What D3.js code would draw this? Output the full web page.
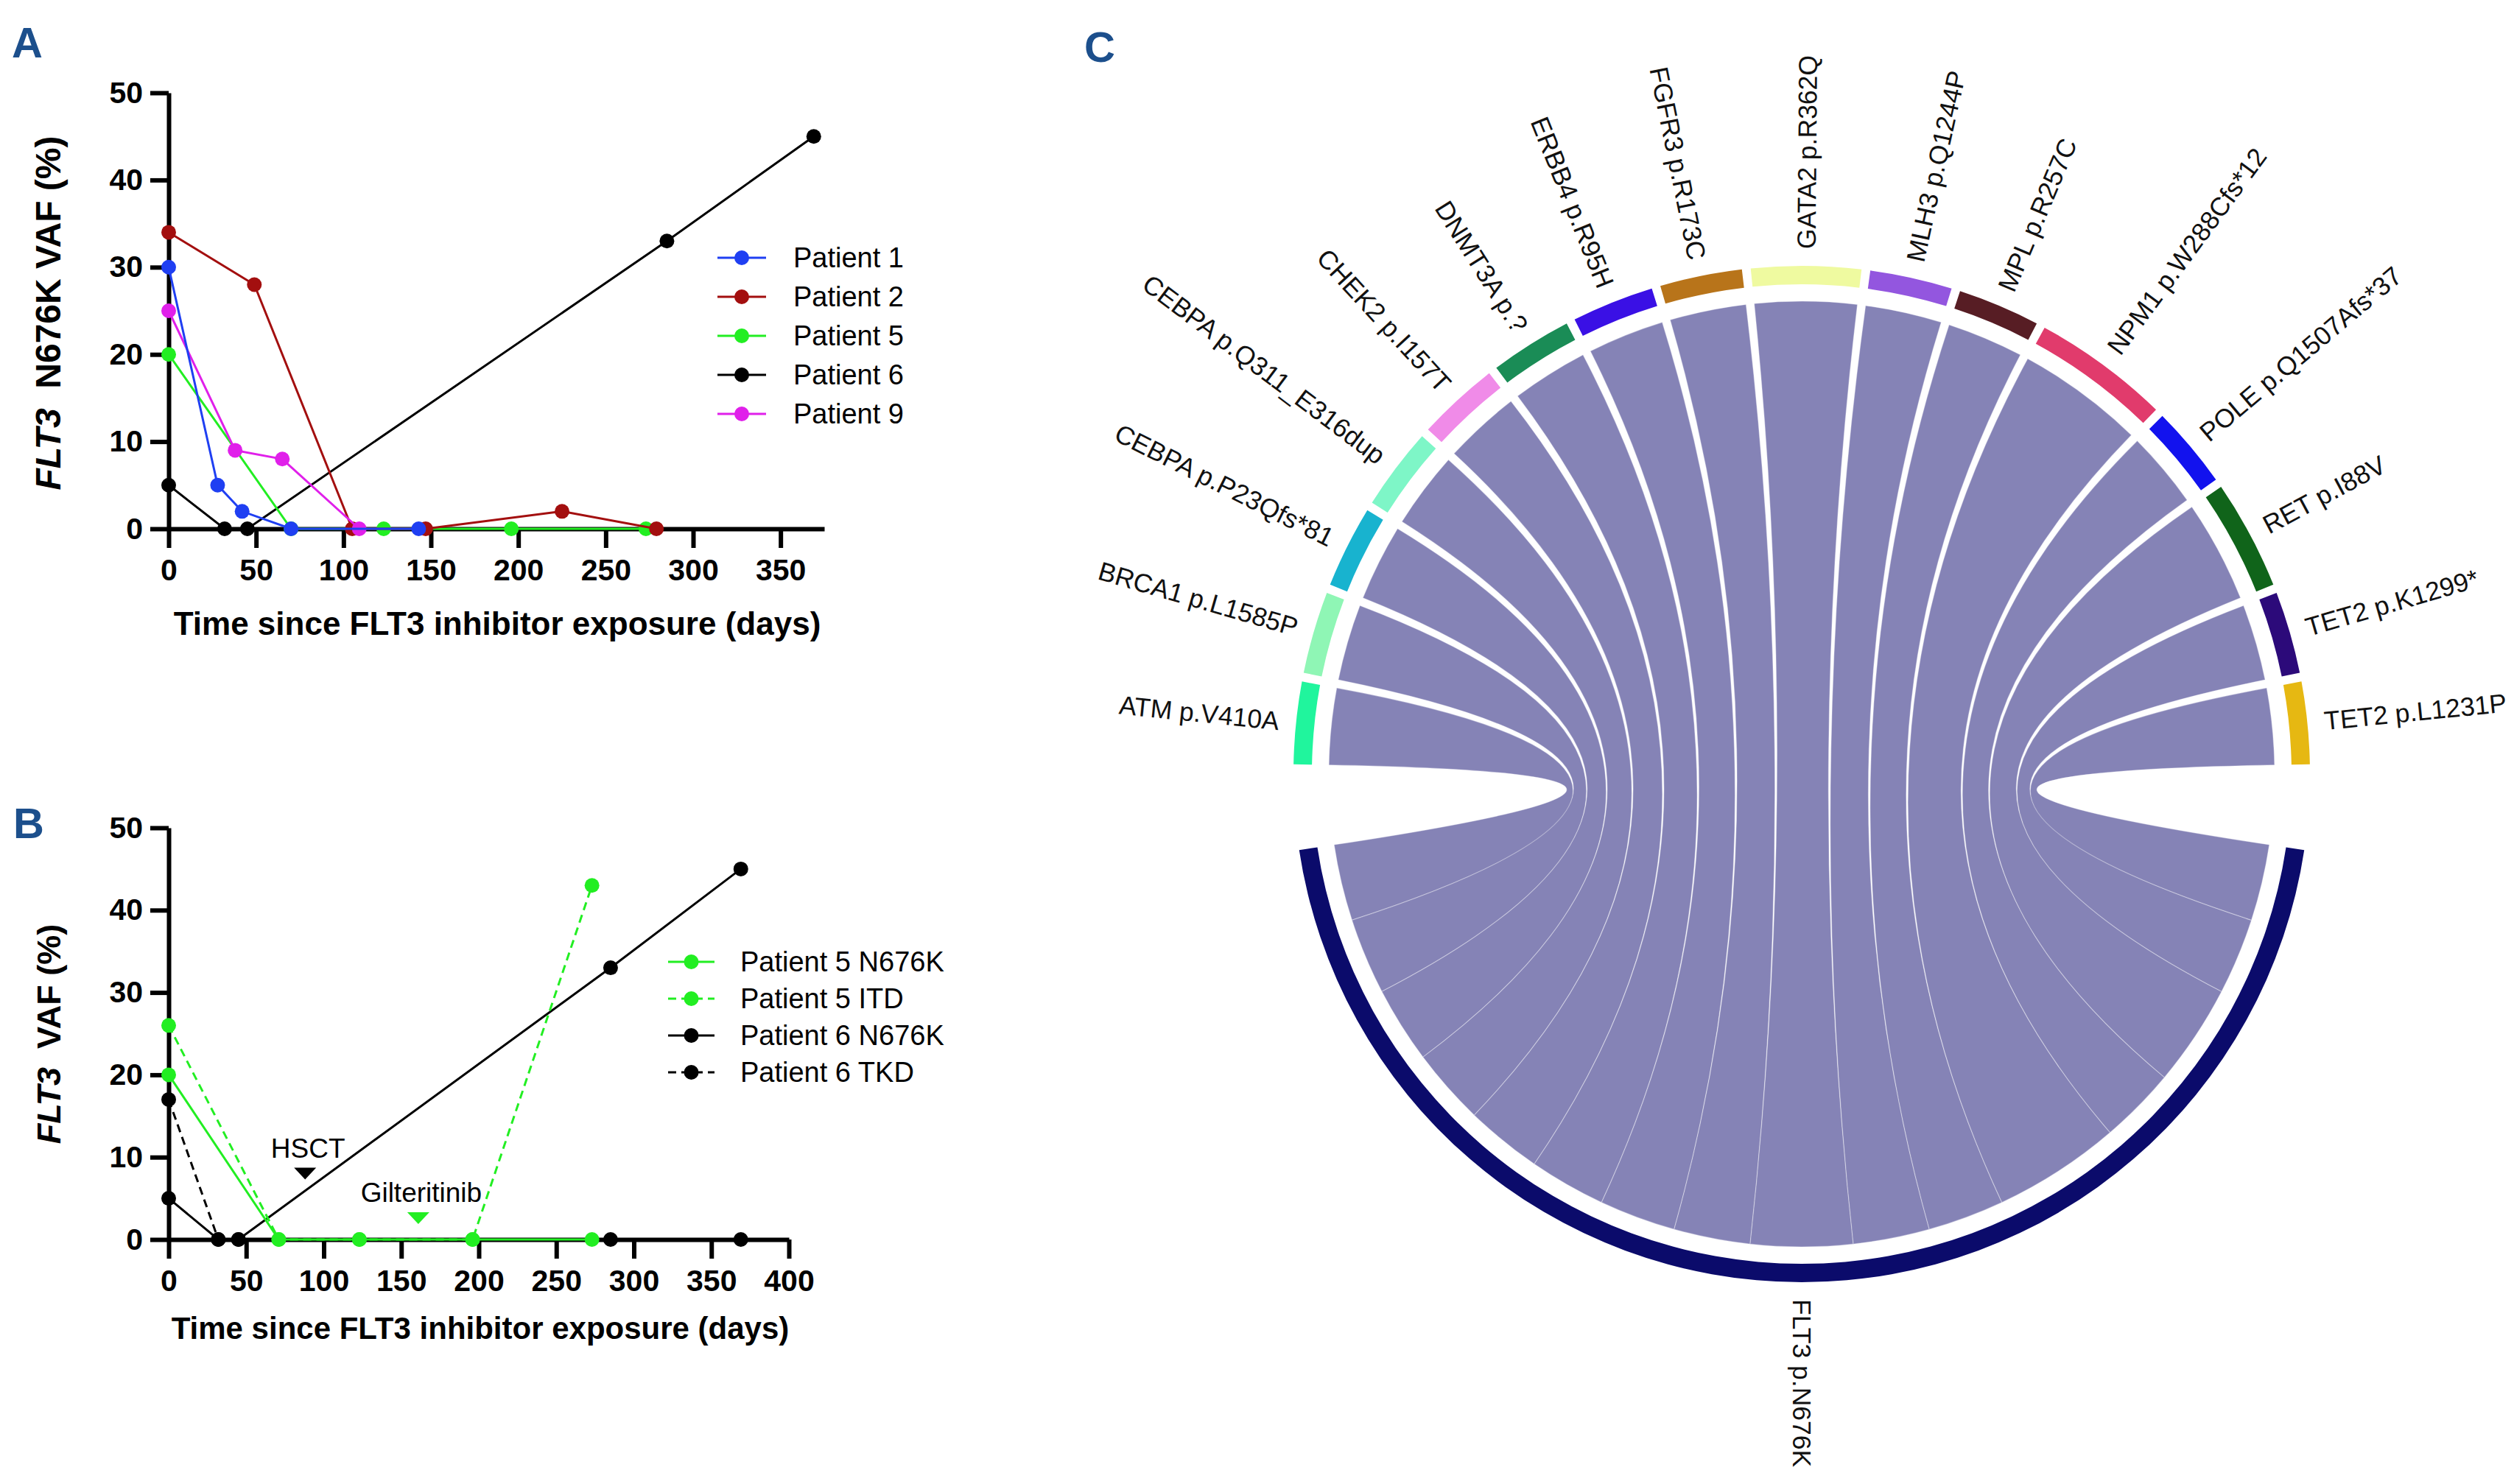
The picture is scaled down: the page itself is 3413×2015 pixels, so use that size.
<!DOCTYPE html>
<html>
<head lang="en">
    <meta charset="UTF-8">
    <title></title>
    <script src="https://cdn.jsdelivr.net/npm/d3@7/dist/d3.min.js"></script>
    <style>
        body { margin: 0; background: #fff; }
        text { font-family: "Liberation Sans", Arial, sans-serif; }
    </style>
</head>
<body>
<svg id="fig" width="3413" height="2015"></svg>
<script>
    // ---- panel A: N676K VAF per patient ----
    var patientsA = ["Patient 1", "Patient 2", "Patient 5", "Patient 6", "Patient 9"];
    var colorsA = ["#1f3ff2", "#a30f0f", "#22ee22", "#000000", "#e020ea"];
    var p1Days = [0, 28, 42, 70, 143];
    var p1Vaf = [30, 5, 2, 0, 0];
    var p2Days = [0, 49, 105, 147, 225, 279];
    var p2Vaf = [34, 28, 0, 0, 2, 0];
    var p5Days = [0, 70, 123, 196, 273];
    var p5Vaf = [20, 0, 0, 0, 0];
    var p6Days = [0, 32, 45, 285, 369];
    var p6Vaf = [5, 0, 0, 33, 45];
    var p9Days = [0, 38, 65, 109];
    var p9Vaf = [25, 9, 8, 0];

    // ---- panel B: patients 5 and 6, both mutations ----
    var seriesB = ["Patient 5 N676K", "Patient 5 ITD", "Patient 6 N676K", "Patient 6 TKD"];
    var colorsB = ["#22ee22", "#22ee22", "#000000", "#000000"];
    var dashedB = [false, true, false, true];
    var p5nDays = [0, 71, 123, 196, 273];
    var p5nVaf = [20, 0, 0, 0, 0];
    var p5iDays = [0, 71, 123, 196, 273];
    var p5iVaf = [26, 0, 0, 0, 43];
    var p6nDays = [0, 32, 45, 285, 369];
    var p6nVaf = [5, 0, 0, 33, 45];
    var p6tDays = [0, 32, 45, 285, 369];
    var p6tVaf = [17, 0, 0, 0, 0];
    var eventNames = ["HSCT", "Gilteritinib"];
    var eventDays = [88, 161];
    var eventVaf = [8, 2.6];
    var eventColors = ["#000000", "#22ee22"];

    var vafTicks = [0, 10, 20, 30, 40, 50];
    var dayTicksA = [0, 50, 100, 150, 200, 250, 300, 350];
    var dayTicksB = [0, 50, 100, 150, 200, 250, 300, 350, 400];

    // ---- panel C: co-mutations linked to FLT3 p.N676K ----
    var mutations = ["ATM p.V410A", "BRCA1 p.L1585P", "CEBPA p.P23Qfs*81", "CEBPA p.Q311_E316dup",
        "CHEK2 p.I157T", "DNMT3A p.?", "ERBB4 p.R95H", "FGFR3 p.R173C", "GATA2 p.R362Q",
        "MLH3 p.Q1244P", "MPL p.R257C", "NPM1 p.W288Cfs*12", "POLE p.Q1507Afs*37",
        "RET p.I88V", "TET2 p.K1299*", "TET2 p.L1231P"];
    var mutationWeights = [3, 3, 3, 3, 3, 3, 3, 3, 4, 3, 3, 5, 3, 4, 3, 3];
    var mutationColors = ["#20f59d", "#8ff6b5", "#18b3cf", "#7ef6c7", "#f08be8", "#1a8c56",
        "#3a10e5", "#b8741a", "#effaa0", "#9356df", "#571d24", "#e13b6c", "#1212ee",
        "#10641a", "#2c0a7a", "#e6b812"];
    var hubLabel = "FLT3 p.N676K";
    var hubColor = "#0b0b6b";

    var svg = d3.select("#fig");
    var letterColor = "#1c4f8c";

    function panelLetter(txt, x, y) {
        svg.append("text").attr("x", x).attr("y", y)
            .attr("font-size", 58).attr("font-weight", "bold")
            .attr("fill", letterColor).text(txt);
    }

    function drawAxes(g, x, y, xTicks) {
        var ax = g.append("g").attr("transform", "translate(0," + y(0) + ")")
            .call(d3.axisBottom(x).tickValues(xTicks).tickSize(26).tickSizeOuter(0).tickPadding(15));
        var ay = g.append("g").attr("transform", "translate(" + x(0) + ",0)")
            .call(d3.axisLeft(y).tickValues(vafTicks).tickSize(25).tickSizeOuter(0).tickPadding(10));
        [ax, ay].forEach(function (a) {
            a.attr("font-family", null).attr("font-size", null);
            a.select(".domain").attr("stroke", "#000").attr("stroke-width", 6);
            a.selectAll(".tick line").attr("stroke", "#000").attr("stroke-width", 6);
            a.selectAll(".tick text").attr("fill", "#000").attr("font-size", 41)
                .attr("font-weight", "bold");
        });
    }

    function drawSeries(g, x, y, days, vals, color, dashed) {
        var pts = d3.zip(days, vals);
        var line = d3.line().x(function (d) { return x(d[0]); }).y(function (d) { return y(d[1]); });
        g.append("path").datum(pts).attr("d", line)
            .attr("fill", "none").attr("stroke", color).attr("stroke-width", 3)
            .attr("stroke-dasharray", dashed ? "11,7" : null);
        g.selectAll(null).data(pts).enter().append("circle")
            .attr("cx", function (d) { return x(d[0]); })
            .attr("cy", function (d) { return y(d[1]); })
            .attr("r", 10).attr("fill", color);
    }

    function legendRow(g, x0, x1, xt, yy, color, dashed, label) {
        g.append("line").attr("x1", x0).attr("x2", x1).attr("y1", yy).attr("y2", yy)
            .attr("stroke", color).attr("stroke-width", 3)
            .attr("stroke-dasharray", dashed ? "11,7" : null);
        g.append("circle").attr("cx", (x0 + x1) / 2).attr("cy", yy).attr("r", 10).attr("fill", color);
        g.append("text").attr("x", xt).attr("y", yy).attr("dy", "0.35em")
            .attr("font-size", 38).text(label);
    }

    // ---------- A ----------
    panelLetter("A", 16, 78);
    var gA = svg.append("g");
    var xA = d3.scaleLinear().domain([0, 375]).range([229, 1119]);
    var yA = d3.scaleLinear().domain([0, 50]).range([718, 126]);
    drawAxes(gA, xA, yA, dayTicksA);
    var order = [3, 2, 1, 4, 0];
    var daysA = [p1Days, p2Days, p5Days, p6Days, p9Days];
    var vafA = [p1Vaf, p2Vaf, p5Vaf, p6Vaf, p9Vaf];
    order.forEach(function (i) {
        drawSeries(gA, xA, yA, daysA[i], vafA[i], colorsA[i], false);
    });
    patientsA.forEach(function (p, i) {
        legendRow(gA, 974, 1040, 1077, 350 + i * 53, colorsA[i], false, p);
    });
    var ytA = gA.append("text").attr("transform", "translate(82,425) rotate(-90)")
        .attr("text-anchor", "middle").attr("font-size", 48).attr("font-weight", "bold");
    ytA.append("tspan").attr("font-style", "italic").text("FLT3");
    ytA.append("tspan").attr("xml:space", "preserve").text("  N676K VAF (%)");
    gA.append("text").attr("x", 675).attr("y", 862).attr("text-anchor", "middle")
        .attr("font-size", 44).attr("font-weight", "bold")
        .text("Time since FLT3 inhibitor exposure (days)");

    // ---------- B ----------
    panelLetter("B", 18, 1138);
    var gB = svg.append("g");
    var xB = d3.scaleLinear().domain([0, 400]).range([229, 1071]);
    var yB = d3.scaleLinear().domain([0, 50]).range([1683, 1124]);
    drawAxes(gB, xB, yB, dayTicksB);
    var daysB = [p5nDays, p5iDays, p6nDays, p6tDays];
    var vafB = [p5nVaf, p5iVaf, p6nVaf, p6tVaf];
    [3, 2, 1, 0].forEach(function (i) {
        drawSeries(gB, xB, yB, daysB[i], vafB[i], colorsB[i], dashedB[i]);
    });
    seriesB.forEach(function (s, i) {
        legendRow(gB, 907, 970, 1005, 1306 + i * 50, colorsB[i], dashedB[i], s);
    });
    eventNames.forEach(function (n, i) {
        var ex = xB(eventDays[i]), ey = yB(eventVaf[i]);
        gB.append("path")
            .attr("d", "M" + (ex - 15) + "," + (ey - 8) + "L" + (ex + 15) + "," + (ey - 8) + "L" + ex + "," + (ey + 8) + "Z")
            .attr("fill", eventColors[i]);
        gB.append("text").attr("x", ex + 4).attr("y", ey - 22).attr("text-anchor", "middle")
            .attr("font-size", 37).text(n);
    });
    var ytB = gB.append("text").attr("transform", "translate(82,1404) rotate(-90)")
        .attr("text-anchor", "middle").attr("font-size", 45).attr("font-weight", "bold");
    ytB.append("tspan").attr("font-style", "italic").text("FLT3");
    ytB.append("tspan").attr("xml:space", "preserve").text("  VAF (%)");
    gB.append("text").attr("x", 652).attr("y", 1818).attr("text-anchor", "middle")
        .attr("font-size", 42).attr("font-weight", "bold")
        .text("Time since FLT3 inhibitor exposure (days)");

    // ---------- C ----------
    panelLetter("C", 1472, 84);
    var cx = 2446, cy = 1051;
    var arcOuter = 690, arcInner = 665, ribbonR = 642, labelR = 713;
    var total = d3.sum(mutationWeights);
    var unitDeg = 162.8 / total, padDeg = 1;
    var topSpan = total * unitDeg + (mutations.length - 1) * padDeg;
    var topAngle = d3.scaleLinear().domain([0, total]).range([-topSpan / 2, -topSpan / 2 + total * unitDeg]);
    var hubAngle = d3.scaleLinear().domain([0, total]).range([180 + total * unitDeg / 2, 180 - total * unitDeg / 2]);
    var rad = Math.PI / 180;

    var cum = 0;
    var groups = mutations.map(function (m, i) {
        var g = {
            name: m, color: mutationColors[i],
            a0: topAngle(cum) + i * padDeg, a1: topAngle(cum + mutationWeights[i]) + i * padDeg,
            t0: hubAngle(cum + mutationWeights[i]), t1: hubAngle(cum)
        };
        cum += mutationWeights[i];
        return g;
    });

    var gC = svg.append("g").attr("transform", "translate(" + cx + "," + cy + ")");
    var ribbon = d3.ribbon().radius(ribbonR);
    gC.selectAll(".rib").data(groups).enter().append("path")
        .attr("d", function (d) {
            return ribbon({
                source: {startAngle: d.a0 * rad, endAngle: d.a1 * rad},
                target: {startAngle: d.t0 * rad, endAngle: d.t1 * rad}
            });
        })
        .attr("fill", "#8583b6").attr("stroke", "#fff").attr("stroke-width", 1.2).attr("stroke-opacity", 0.35);

    var arc = d3.arc().innerRadius(arcInner).outerRadius(arcOuter);
    gC.selectAll(".grp").data(groups).enter().append("path")
        .attr("d", function (d) { return arc({startAngle: d.a0 * rad, endAngle: d.a1 * rad}); })
        .attr("fill", function (d) { return d.color; });
    gC.append("path")
        .attr("d", arc({startAngle: hubAngle(total) * rad, endAngle: hubAngle(0) * rad}))
        .attr("fill", hubColor);

    function placeLabel(name, mid) {
        var flip = ((mid % 360) + 360) % 360 > 180.01;
        gC.append("text")
            .attr("transform", "rotate(" + (mid - 90) + ") translate(" + labelR + ",0)" + (flip ? " rotate(180)" : ""))
            .attr("text-anchor", flip ? "end" : "start")
            .attr("dy", "0.35em").attr("font-size", 35.5).attr("fill", "#111")
            .text(name);
    }
    groups.forEach(function (d) { placeLabel(d.name, (d.a0 + d.a1) / 2); });
    placeLabel(hubLabel, 180);
</script>
</body>
</html>
